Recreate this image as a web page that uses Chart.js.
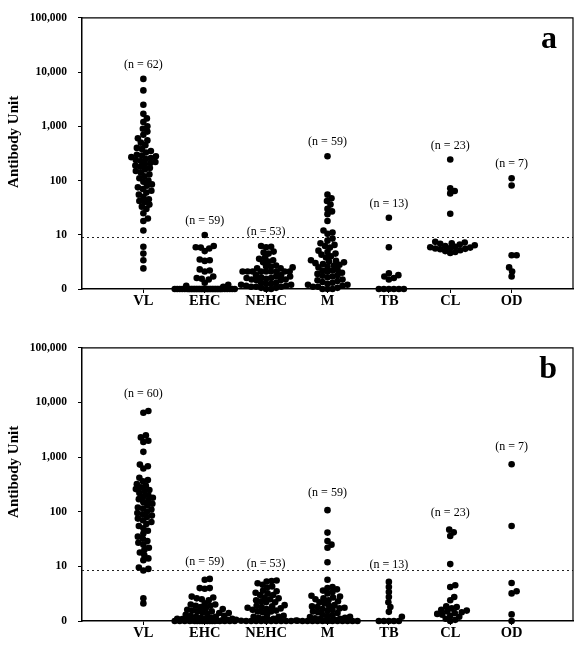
<!DOCTYPE html>
<html>
<head>
<meta charset="utf-8">
<script src="https://cdn.jsdelivr.net/npm/chart.js@4/dist/chart.umd.min.js"></script>
<style>
    html, body { margin: 0; padding: 0; background: #fff; }
    #wrap { position: relative; width: 584px; height: 659px; }
    .panel { position: absolute; left: 0; width: 584px; }
</style>
</head>
<body>
<div id="wrap">
    <div class="panel" style="top:0;height:325px"><canvas id="chartA"></canvas></div>
    <div class="panel" style="top:330px;height:329px"><canvas id="chartB"></canvas></div>
</div>
<script>
// Categories and axis ticks
const categories = ["VL", "EHC", "NEHC", "M", "TB", "CL", "OD"];
const yTicks = [0, 10, 100, 1000, 10000, 100000];
const yTitle = "Antibody Unit";

// Panel a: antibody units per patient group
const aVL = [7500, 4600, 2500, 1700, 1400, 1200, 1000, 900, 800, 700, 600, 550, 500, 450,
    400, 380, 350, 330, 300, 290, 280, 270, 260, 250, 240, 230, 220, 210, 200,
    190, 180, 170, 160, 150, 140, 130, 120, 110, 100,
    95, 85, 80, 75, 70, 65, 60, 55, 50, 45, 42, 40, 36, 33, 30,
    25, 20, 18, 12, 6, 4.5, 3.4, 2.4];
const aEHC = [9.9, 6.2, 5.9, 5.8, 5.6, 5, 3.5, 3.4, 3.3, 2.3, 2.2, 2.1, 1.7, 1.6, 1.55, 1.5, 1.3, 1.2, 1.15, 1.1,
    0, 0, 0, 0, 0, 0, 0, 0, 0, 0, 0, 0, 0, 0, 0, 0, 0, 0, 0, 0,
    0, 0, 0, 0, 0, 0, 0, 0, 0, 0, 0, 0, 0, 0, 0, 0, 0, 0, 0];
const aNEHC = [6.2, 6.0, 5.9, 4.9, 4.7, 4.5, 3.8, 3.6, 3.4, 3.2, 3.1, 2.7, 2.6, 2.6, 2.5, 2.4, 2.4,
    2.1, 2.1, 2.1, 2.1, 2.1, 2.1, 2.1, 2.1, 2.1,
    1.8, 1.8, 1.7, 1.7, 1.65, 1.6, 1.6, 1.55, 1.5, 1.5, 1.45, 1.45,
    1.3, 1.3, 1.25, 1.25, 1.2, 1.2, 1.15, 1.15, 1.1, 1.1, 1.1, 1.05, 1.05, 1.0, 1.0];
const aM = [280, 55, 47, 42, 36, 30, 27, 24, 18, 12, 11, 10.4,
    8.5, 7.8, 7, 6.5, 6.2, 5.8, 5.1, 4.8, 4.5, 4.3, 4, 3.8,
    3.4, 3.3, 3.2, 3.1, 3, 2.9, 2.8, 2.7, 2.6, 2.5,
    2.3, 2.2, 2.2, 2.1, 2.0, 1.9, 1.8, 1.75, 1.7, 1.65,
    1.5, 1.45, 1.4, 1.35, 1.3, 1.25, 1.2, 1.2, 1.15, 1.1, 1.1, 1.05, 1, 1, 1];
const aTB = [20.6, 5.9, 1.95, 1.8, 1.7, 1.6, 1.5, 0, 0, 0, 0, 0, 0];
const aCL = [245, 72, 64, 58, 24.5, 7.4, 7.2, 7.0, 6.8, 6.6, 6.4, 6.2, 6.0, 5.9, 5.8, 5.7, 5.6, 5.5, 5.4, 5.2, 5.0, 4.8, 4.6];
const aOD = [110, 81, 4.2, 4.2, 2.5, 2.1, 1.7];

// Panel b
const bVL = [7000, 6500, 2500, 2300, 2000, 1900, 1250, 730, 680, 620, 420, 380, 360,
    320, 300, 280, 260, 250, 240, 220, 200, 190, 180, 170, 160, 150, 140, 130, 120, 115, 110, 100,
    95, 90, 85, 80, 75, 70, 65, 60, 55, 50,
    45, 40, 35, 32, 29, 27, 25, 22, 20, 18, 16, 14, 13, 9.5, 9, 8.4, 2.6, 2.1];
const bEHC = [5.9, 5.7, 4.0, 4.0, 3.9, 2.8, 2.7, 2.6, 2.5, 2.4, 2.1, 2.0, 2.0, 1.9, 1.9, 1.8,
    1.7, 1.65, 1.6, 1.55, 1.5, 1.5, 1.45, 1.4, 1.4, 1.35,
    1.3, 1.25, 1.25, 1.2, 1.2, 1.15, 1.15, 1.1, 1.1, 1.1, 1.08, 1.05, 1.05, 1.03, 1.02, 1.01,
    0, 0, 0, 0, 0, 0, 0, 0, 0, 0, 0, 0, 0, 0, 0, 0, 0];
const bNEHC = [5.5, 5.4, 5.3, 4.9, 4.6, 4.3, 4.1, 3.6, 3.5, 3.3, 3.2, 3.0, 3.0,
    2.7, 2.6, 2.5, 2.4, 2.3, 2.2, 2.2,
    1.95, 1.9, 1.85, 1.8, 1.75, 1.7, 1.65, 1.6, 1.55, 1.5, 1.5, 1.45,
    1.3, 1.25, 1.2, 1.2, 1.15, 1.1, 1.1, 1.05, 1.05, 1.02, 1.01,
    0, 0, 0, 0, 0, 0, 0, 0, 0, 0];
const bM = [107, 41.5, 29, 25, 22, 11.9, 5.7,
    4.2, 4.0, 3.8, 3.6, 3.4, 3.2,
    2.9, 2.8, 2.7, 2.6, 2.5, 2.4, 2.3, 2.2, 2.1,
    1.95, 1.9, 1.85, 1.8, 1.75, 1.7, 1.65, 1.6, 1.55, 1.5, 1.45, 1.4,
    1.3, 1.28, 1.25, 1.2, 1.18, 1.15, 1.12, 1.1, 1.08, 1.05, 1.03, 1.02, 1.01, 1.0,
    0, 0, 0, 0, 0, 0, 0, 0, 0, 0, 0];
const bTB = [5.2, 4.2, 3.4, 2.75, 2.2, 1.8, 1.47, 1.2, 0, 0, 0, 0, 0];
const bCL = [47, 42, 36, 11, 4.5, 4.2, 2.75, 2.4,
    1.85, 1.8, 1.7, 1.6, 1.55, 1.5, 1.45, 1.4, 1.35, 1.3, 1.25, 1.2, 1.1, 1.05, 1.0];
const bOD = [740, 55, 4.95, 3.5, 3.2, 1.32, 0];

const panelA = [aVL, aEHC, aNEHC, aM, aTB, aCL, aOD];
const panelB = [bVL, bEHC, bNEHC, bM, bTB, bCL, bOD];

const serif = '"Liberation Serif", "Times New Roman", serif';
Chart.defaults.font.family = serif;
Chart.defaults.color = "#000";

function fmt(v) {
    if (v <= 1) return "0";
    return String(Math.round(v)).replace(/\B(?=(\d{3})+(?!\d))/g, ",");
}

// spread points sideways; dots may overlap a little like in the printed figure
function swarm(chart, values, cat) {
    const xs = chart.scales.x, ys = chart.scales.y;
    const cx = xs.getPixelForValue(cat);
    const unit = xs.getPixelForValue(cat + 1) - cx;
    const d = 5.0, maxHalf = 30, step = 0.5;
    const placed = [];
    const out = [];
    const sorted = values.map(v => Math.max(v, 1)).sort((p, q) => p - q);
    sorted.forEach(v => {
        const py = ys.getPixelForValue(v);
        let best = 0, bestDist = -1;
        for (let k = 0; k <= (maxHalf / step) * 2; k++) {
            const off = (k % 2 ? 1 : -1) * Math.ceil(k / 2) * step;
            let minD = Infinity;
            placed.forEach(p => {
                const dd = Math.hypot(p.x - off, p.y - py);
                if (dd < minD) minD = dd;
            });
            if (minD >= d) { best = off; bestDist = minD; break; }
            if (minD > bestDist) { bestDist = minD; best = off; }
        }
        placed.push({ x: best, y: py });
        out.push({ x: cat + best / unit, y: v });
    });
    return out;
}

function makeDecor(groups, cutoff, letter, gap) {
    return {
        id: "decor",
        beforeDatasetsDraw(chart) {
            const { ctx, chartArea: ca, scales: { y } } = chart;
            const yy = Math.round(y.getPixelForValue(cutoff)) + 0.5;
            ctx.save();
            ctx.strokeStyle = "#222";
            ctx.lineWidth = 1;
            ctx.setLineDash([2, 3]);
            ctx.beginPath();
            ctx.moveTo(ca.left, yy);
            ctx.lineTo(ca.right, yy);
            ctx.stroke();
            ctx.restore();
        },
        afterDraw(chart) {
            const { ctx, chartArea: ca, scales: { x, y } } = chart;
            ctx.save();
            // frame top and right
            ctx.strokeStyle = "#000";
            ctx.lineWidth = 1.2;
            ctx.beginPath();
            ctx.moveTo(ca.left, ca.top);
            ctx.lineTo(ca.right, ca.top);
            ctx.lineTo(ca.right, ca.bottom);
            ctx.stroke();

            // n = labels
            ctx.fillStyle = "#000";
            ctx.font = "12px " + serif;
            ctx.textAlign = "center";
            ctx.textBaseline = "middle";
            groups.forEach((vals, i) => {
                const top = Math.max(1, Math.max(...vals));
                ctx.fillText("(n = " + vals.length + ")", x.getPixelForValue(i + 1), y.getPixelForValue(top) - gap);
            });

            // panel letter
            ctx.font = "bold 32px " + serif;
            ctx.textAlign = "right";
            ctx.textBaseline = "alphabetic";
            ctx.fillText(letter, ca.right - 16, ca.top + 30);

            // y axis title
            ctx.font = "bold 15px " + serif;
            ctx.textAlign = "center";
            ctx.textBaseline = "middle";
            ctx.translate(14, ca.top + 124);
            ctx.rotate(-Math.PI / 2);
            ctx.fillText(yTitle, 0, 0);
            ctx.restore();
        }
    };
}

function makeChart(id, groups, cutoff, letter, padTop, xHeight, gap) {
    const axisGrid = { drawOnChartArea: false, drawTicks: true, tickLength: 4, color: "#000", lineWidth: 1 };
    const axisBorder = { display: true, color: "#000", width: 1.5 };
    const chart = new Chart(document.getElementById(id), {
        type: "scatter",
        data: {
            datasets: [{
                data: [],
                backgroundColor: "#000",
                borderWidth: 0,
                pointRadius: 3.3,
                pointHoverRadius: 3.3,
                clip: false
            }]
        },
        options: {
            responsive: true,
            maintainAspectRatio: false,
            animation: false,
            events: [],
            layout: { padding: { top: padTop, right: 11, left: 0, bottom: 0 } },
            plugins: { legend: { display: false }, tooltip: { enabled: false } },
            scales: {
                x: {
                    type: "linear",
                    min: 0,
                    max: 8,
                    afterBuildTicks: s => { s.ticks = categories.map((c, i) => ({ value: i + 1 })); },
                    afterFit: s => { s.height = xHeight; },
                    ticks: {
                        callback: v => categories[v - 1] || "",
                        font: { family: serif, size: 14.5, weight: "bold" },
                        color: "#000",
                        padding: 0,
                        maxRotation: 0,
                        autoSkip: false
                    },
                    grid: axisGrid,
                    border: axisBorder
                },
                y: {
                    type: "logarithmic",
                    min: 1,
                    max: 100000,
                    afterBuildTicks: s => { s.ticks = yTicks.map(v => ({ value: Math.max(v, 1) })); },
                    afterFit: s => { s.width = 82; },
                    ticks: {
                        callback: v => fmt(v),
                        font: { family: serif, size: 11.5, weight: "bold" },
                        color: "#000",
                        padding: 11,
                        autoSkip: false
                    },
                    grid: axisGrid,
                    border: axisBorder
                }
            }
        },
        plugins: [makeDecor(groups, cutoff, letter, gap)]
    });

    const pts = [];
    groups.forEach((vals, i) => pts.push(...swarm(chart, vals, i + 1)));
    chart.data.datasets[0].data = pts;
    chart.update("none");
    return chart;
}

makeChart("chartA", panelA, 9.2, "a", 14, 36, 14);
makeChart("chartB", panelB, 8.5, "b", 15, 38, 17);
</script>
</body>
</html>
